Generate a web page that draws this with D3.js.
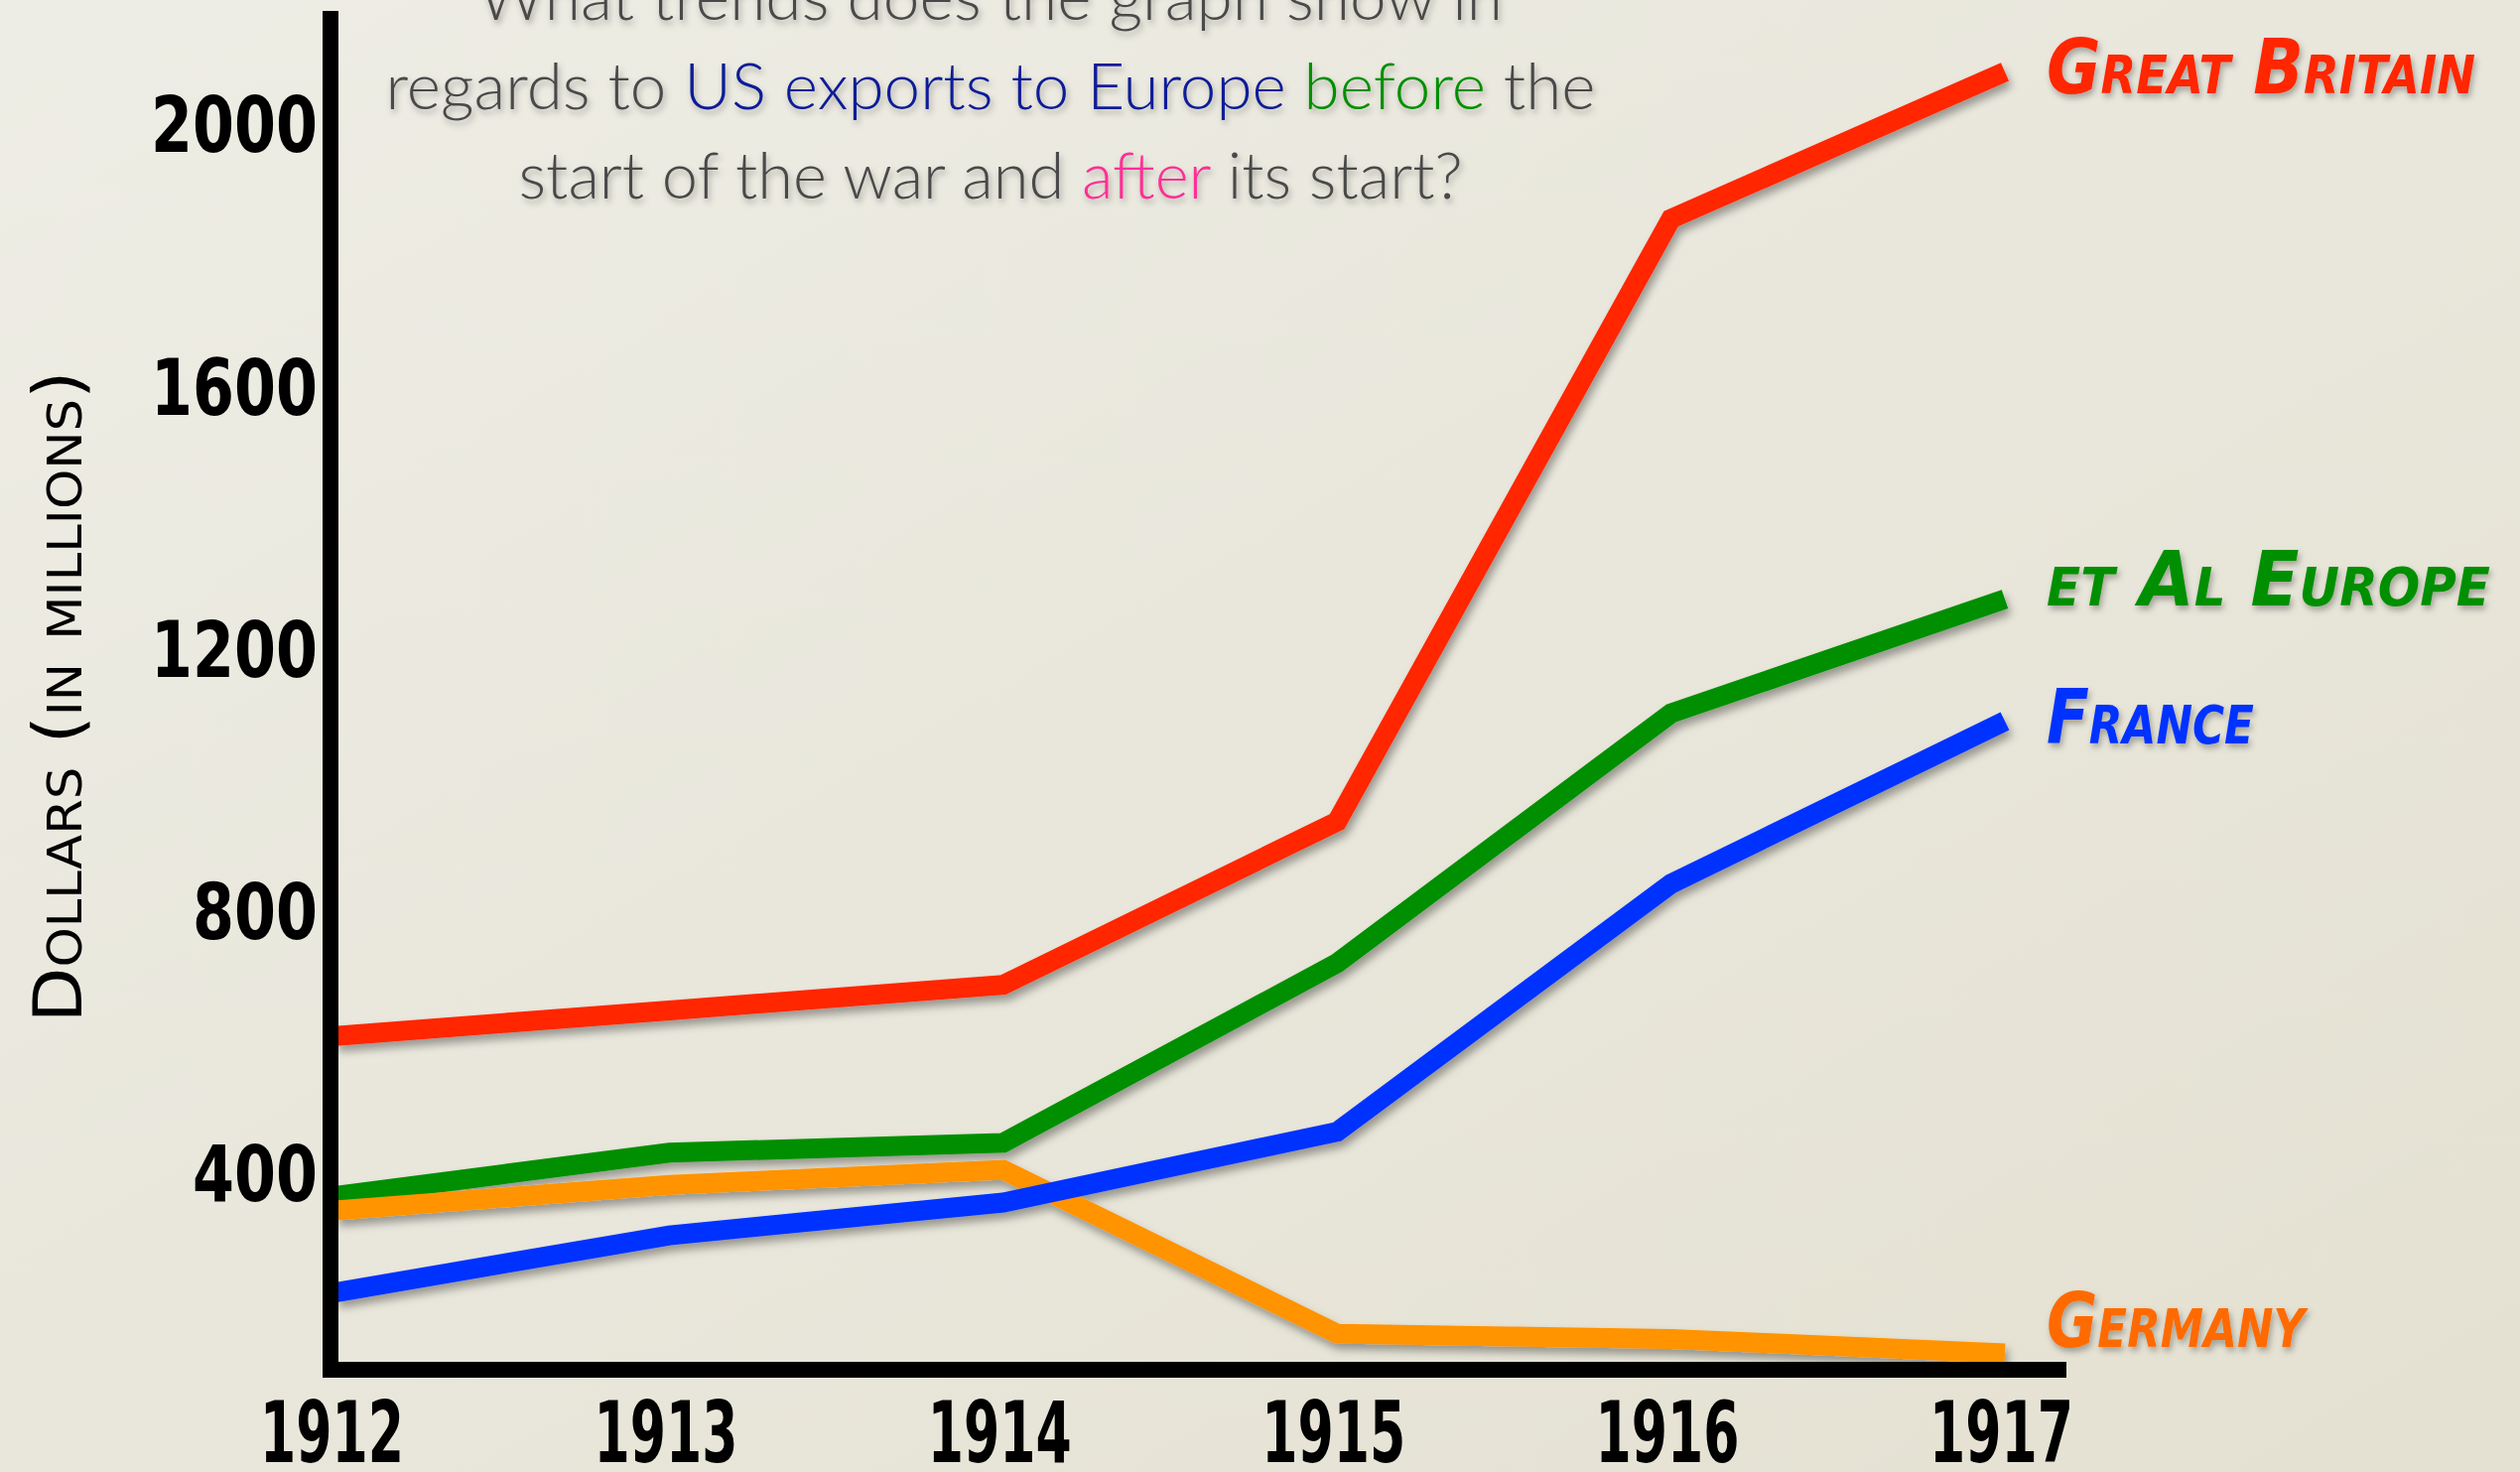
<!DOCTYPE html>
<html>
<head>
<meta charset="utf-8">
<script src="https://cdn.jsdelivr.net/npm/d3@7"></script>
<style>
  body { margin: 0; background: #e8e7dc; }
  svg { display: block; }
</style>
</head>
<body>
<svg id="chart"></svg>
<script>
// US exports to Europe, dollars in millions
var years = [1912, 1913, 1914, 1915, 1916, 1917];
var greatBritain = [609, 648, 687, 936, 1855, 2079];
var restOfEurope = [365, 431, 446, 720, 1101, 1275];
var france = [218, 305, 355, 463, 841, 1089];
var germany = [343, 382, 405, 155, 147, 125];
var yTicks = [400, 800, 1200, 1600, 2000];

var seriesNames = ["et Al Europe", "Germany", "France", "Great Britain"];
var seriesValues = [restOfEurope, germany, france, greatBritain];
var lineColors = ["#008f00", "#ff9300", "#0433ff", "#ff2600"];
var labelColors = ["#008f00", "#ff6a00", "#0433ff", "#ff2600"];

var titleLines = [
  [["What trends does the graph show in", "#4a4a4a"]],
  [["regards to ", "#4a4a4a"], ["US exports to Europe", "#0a1a96"], [" ", "#4a4a4a"], ["before", "#008f00"], [" the", "#4a4a4a"]],
  [["start of the war and ", "#4a4a4a"], ["after", "#ff2d96"], [" its start?", "#4a4a4a"]]
];

var width = 2539;
var height = 1483;

var svg = d3.select("#chart")
    .attr("width", width)
    .attr("height", height);

var defs = svg.append("defs");

var bg = defs.append("linearGradient")
    .attr("id", "paper")
    .attr("x1", 0).attr("y1", 0).attr("x2", 1).attr("y2", 1);
bg.append("stop").attr("offset", "0%").attr("stop-color", "#eeede5");
bg.append("stop").attr("offset", "100%").attr("stop-color", "#e4e1d2");

defs.append("filter")
    .attr("id", "shadow")
    .attr("x", "-10%").attr("y", "-10%").attr("width", "120%").attr("height", "130%")
  .append("feDropShadow")
    .attr("dx", 3).attr("dy", 6)
    .attr("stdDeviation", 4)
    .attr("flood-color", "#000")
    .attr("flood-opacity", 0.35);

defs.append("filter")
    .attr("id", "textShadow")
    .attr("x", "-10%").attr("y", "-30%").attr("width", "120%").attr("height", "160%")
  .append("feDropShadow")
    .attr("dx", 2).attr("dy", 4)
    .attr("stdDeviation", 3)
    .attr("flood-color", "#000")
    .attr("flood-opacity", 0.3);

svg.append("rect")
    .attr("width", width)
    .attr("height", height)
    .attr("fill", "url(#paper)");

var x = d3.scalePoint()
    .domain(years)
    .range([338, 2020]);

var y = d3.scaleLinear()
    .domain([100, 2172])
    .range([1380, 11]);

var axisLeftX = 325,
    axisRightX = 2082,
    barWidth = 16;

// title
svg.append("g")
    .attr("filter", "url(#textShadow)")
  .selectAll("text")
  .data(titleLines)
  .enter()
    .append("text")
    .attr("x", 998)
    .attr("y", (d, i) => 20 + i * 90)
    .attr("text-anchor", "middle")
    .attr("font-family", "Lato, 'Open Sans', sans-serif")
    .attr("font-weight", 300)
    .attr("font-size", 66)
    .attr("textLength", (d, i) => [1032, 1219, 951][i])
    .attr("lengthAdjust", "spacingAndGlyphs")
    .each(function(line) {
      d3.select(this).selectAll("tspan")
        .data(line)
        .enter()
          .append("tspan")
          .attr("fill", d => d[1])
          .text(d => d[0]);
    });

// lines
var line = d3.line()
    .x((d, i) => x(years[i]))
    .y(d => y(d));

svg.append("g")
    .attr("filter", "url(#shadow)")
  .selectAll(".series")
  .data(seriesValues)
  .enter()
    .append("path")
    .classed("series", true)
    .attr("d", line)
    .attr("fill", "none")
    .attr("stroke", (d, i) => lineColors[i])
    .attr("stroke-width", 20)
    .attr("stroke-linejoin", "miter")
    .attr("stroke-linecap", "butt");

// axes bars
svg.append("rect")
    .attr("x", axisLeftX)
    .attr("y", y.range()[1])
    .attr("width", barWidth)
    .attr("height", y(y.domain()[0]) + barWidth / 2 - y.range()[1])
    .attr("fill", "#000");

svg.append("rect")
    .attr("x", axisLeftX)
    .attr("y", y(y.domain()[0]) - barWidth / 2)
    .attr("width", axisRightX - axisLeftX)
    .attr("height", barWidth)
    .attr("fill", "#000");

// y tick labels
var yAxis = svg.append("g")
    .attr("transform", "translate(320,0)")
    .call(d3.axisLeft(y).tickValues(yTicks).tickFormat(d3.format("d")).tickSize(0).tickPadding(0));
yAxis.select(".domain").remove();
yAxis.selectAll("text")
    .attr("dy", "0.36em")
    .attr("fill", "#000")
    .attr("font-family", "'DejaVu Sans', sans-serif")
    .attr("font-weight", "bold")
    .attr("font-size", 78)
    .attr("textLength", d => String(d).length * 42)
    .attr("lengthAdjust", "spacingAndGlyphs");

// x tick labels
var xAxis = svg.append("g")
    .attr("transform", "translate(-4,1442)")
    .call(d3.axisBottom(x).tickSize(0).tickPadding(0));
xAxis.select(".domain").remove();
xAxis.selectAll("text")
    .attr("y", 0)
    .attr("dy", "0.36em")
    .attr("fill", "#000")
    .attr("font-family", "'DejaVu Sans', sans-serif")
    .attr("font-weight", "bold")
    .attr("font-size", 86)
    .attr("textLength", 145)
    .attr("lengthAdjust", "spacingAndGlyphs");

// y axis title
svg.append("text")
    .attr("transform", "translate(82,702) rotate(-90)")
    .attr("text-anchor", "middle")
    .attr("fill", "#000")
    .attr("font-family", "'DejaVu Sans', sans-serif")
    .attr("font-size", 68)
    .style("font-variant", "small-caps")
    .attr("textLength", 657)
    .attr("lengthAdjust", "spacingAndGlyphs")
    .text("Dollars (in millions)");

// series labels
var labelNudge = { "Germany": -28, "et Al Europe": -16 };
var labelWidth = { "Great Britain": 432, "et Al Europe": 447, "France": 209, "Germany": 260 };

svg.append("g")
    .attr("filter", "url(#textShadow)")
  .selectAll(".label")
  .data(seriesNames)
  .enter()
    .append("text")
    .classed("label", true)
    .attr("x", x(years[years.length - 1]) + 42)
    .attr("y", (d, i) => y(seriesValues[i][years.length - 1]) + 22 + (labelNudge[d] || 0))
    .attr("fill", (d, i) => labelColors[i])
    .attr("font-family", "'DejaVu Sans', sans-serif")
    .attr("font-weight", "bold")
    .attr("font-style", "italic")
    .attr("font-size", 76)
    .style("font-variant", "small-caps")
    .attr("textLength", d => labelWidth[d])
    .attr("lengthAdjust", "spacingAndGlyphs")
    .text(d => d);
</script>
</body>
</html>
